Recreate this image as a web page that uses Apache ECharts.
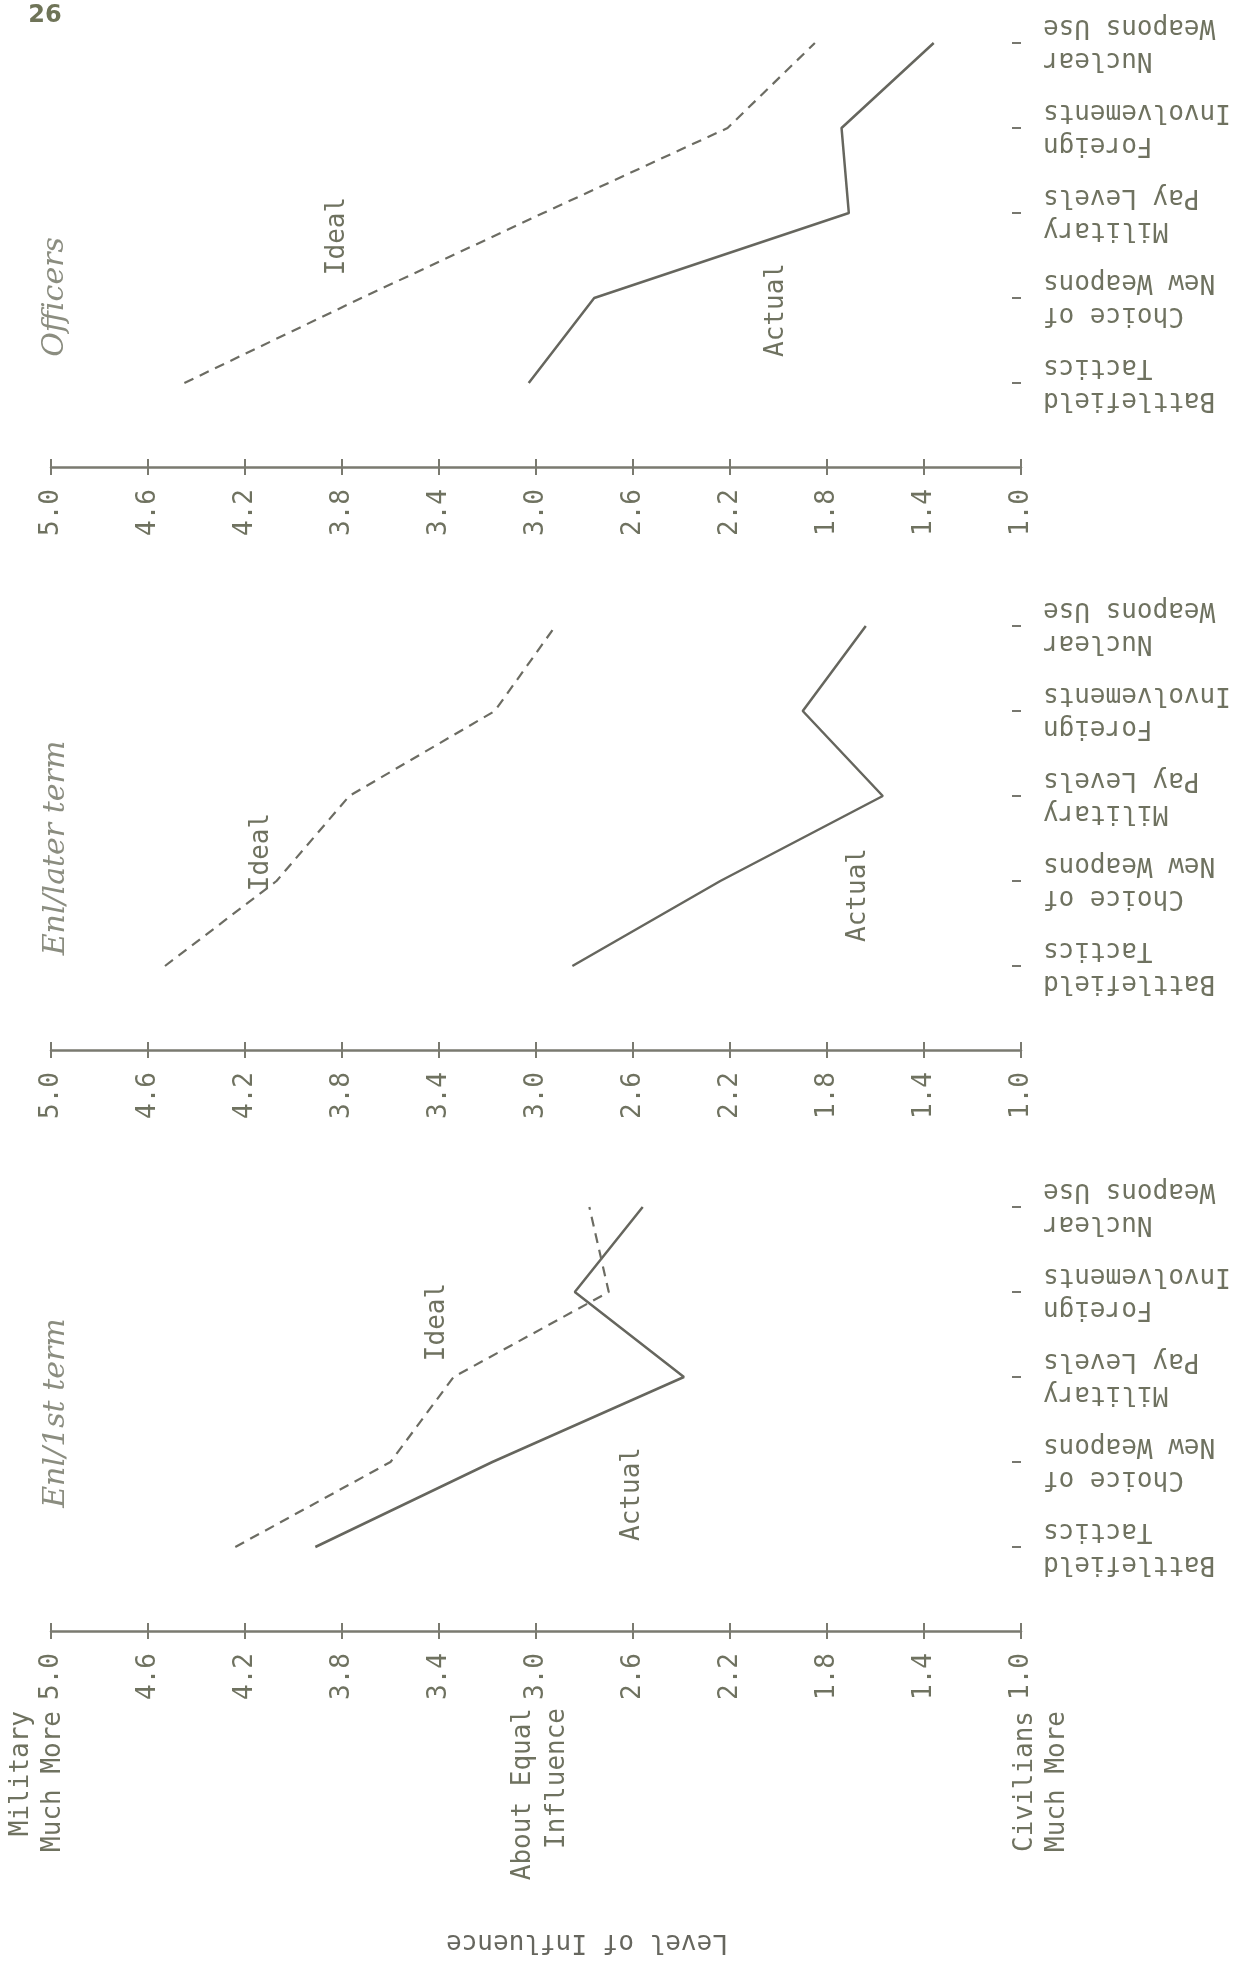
<!DOCTYPE html>
<html>
<head>
<meta charset="utf-8">
<script src="https://cdn.jsdelivr.net/npm/echarts@6/dist/echarts.min.js"></script>
<style>
html,body{margin:0;padding:0;background:#fff;}
#chart{width:1245px;height:1962px;}
</style>
</head>
<body>
<div id="chart"></div>
<script>
// ---- data ----
var categories = ['Battlefield\nTactics', 'Choice of\nNew Weapons', 'Military\nPay Levels', 'Foreign\nInvolvements', 'Nuclear\nWeapons Use'];
var tickValues = [5.0, 4.6, 4.2, 3.8, 3.4, 3.0, 2.6, 2.2, 1.8, 1.4, 1.0];
var tickLabels = ['5.0', '4.6', '4.2', '3.8', '3.4', '3.0', '2.6', '2.2', '1.8', '1.4', '1.0'];
var panelTitles = ['Officers', 'Enl/later term', 'Enl/1st term'];
// Officers
var officersActual = [3.03, 2.76, 1.71, 1.74, 1.36];
var officersIdeal  = [4.45, 3.72, 2.97, 2.21, 1.85];
// Enlisted, later term
var enlLaterActual = [2.85, 2.24, 1.57, 1.90, 1.64];
var enlLaterIdeal  = [4.53, 4.07, 3.77, 3.17, 2.92];
// Enlisted, 1st term
var enl1stActual = [3.91, 3.18, 2.39, 2.84, 2.56];
var enl1stIdeal  = [4.24, 3.60, 3.34, 2.70, 2.78];

var panelActual = [officersActual, enlLaterActual, enl1stActual];
var panelIdeal = [officersIdeal, enlLaterIdeal, enl1stIdeal];

// ---- styles / layout ----
var MONO = 'DejaVu Sans Mono';
var TXT = '#6f7260';
var LINE = '#66665e';
var AXIS = '#7a7a70';
var axisY = [467, 1050, 1631];
var band = 85;
var gridLeft = 51, gridWidth = 970;

var chart = echarts.init(document.getElementById('chart'), null, {renderer: 'canvas'});

var grids = [], xAxes = [], yAxes = [], series = [];
for (var p = 0; p < 3; p++) {
  var Y0 = axisY[p];
  grids.push({
    left: gridLeft, width: gridWidth,
    top: Y0 - 41.5 - 5 * band, height: 5 * band,
    outerBoundsMode: 'none', containLabel: false
  });
  // main value axis: line, outside ticks, labels
  xAxes.push({
    type: 'value', gridIndex: p, position: 'bottom', offset: 41.5,
    min: 1, max: 5, inverse: true,
    splitLine: {show: false},
    axisLine: {show: true, lineStyle: {color: AXIS, width: 2.5}},
    axisTick: {show: true, inside: false, length: 8, lineStyle: {color: AXIS, width: 2}, customValues: tickValues},
    axisLabel: {
      show: true, rotate: 90, margin: 22, customValues: tickValues,
      fontFamily: MONO, fontSize: 26, color: TXT,
      formatter: function (v) {
        var i = tickValues.indexOf(Math.round(v * 10) / 10);
        return i >= 0 ? tickLabels[i] : '';
      }
    }
  });
  // companion axis: inside ticks so the ticks cross the line
  xAxes.push({
    type: 'value', gridIndex: p, position: 'bottom', offset: 41.5,
    min: 1, max: 5, inverse: true,
    splitLine: {show: false},
    axisLine: {show: false},
    axisTick: {show: true, inside: true, length: 8, lineStyle: {color: AXIS, width: 2}, customValues: tickValues},
    axisLabel: {show: false}
  });
  yAxes.push({
    type: 'category', gridIndex: p, position: 'right', data: categories,
    boundaryGap: true,
    axisLine: {show: false},
    axisTick: {show: true, inside: true, length: 9, alignWithLabel: true, lineStyle: {color: '#77776f', width: 2}},
    splitLine: {show: false},
    axisLabel: {
      show: true, rotate: 180, margin: 22, interval: 0,
      fontFamily: MONO, fontSize: 26, lineHeight: 33, color: TXT
    }
  });
  series.push({
    name: 'Actual', type: 'line', xAxisIndex: 2 * p, yAxisIndex: p,
    data: panelActual[p].map(function (v, i) { return [v, categories[i]]; }),
    showSymbol: false, symbol: 'none', silent: true,
    lineStyle: {color: LINE, width: 2.5, type: 'solid'}
  });
  series.push({
    name: 'Ideal', type: 'line', xAxisIndex: 2 * p, yAxisIndex: p,
    data: panelIdeal[p].map(function (v, i) { return [v, categories[i]]; }),
    showSymbol: false, symbol: 'none', silent: true,
    lineStyle: {color: '#6c6c63', width: 2.2, type: [10, 7]}
  });
}

function rtext(x, y, text, opts) {
  opts = opts || {};
  return {
    type: 'text', x: x, y: y, rotation: opts.rotation === undefined ? Math.PI / 2 : opts.rotation,
    silent: true,
    style: {
      text: text,
      fontFamily: opts.fontFamily || MONO,
      fontSize: opts.fontSize || 26,
      fontStyle: opts.fontStyle || 'normal',
      fontWeight: opts.fontWeight || 'normal',
      lineHeight: opts.lineHeight || 34,
      fill: opts.fill || TXT,
      align: opts.align || 'center',
      verticalAlign: 'middle'
    }
  };
}

var titleOpts = {fontFamily: 'DejaVu Serif', fontStyle: 'italic', fontSize: 30, fill: '#8b8d80'};
var graphics = [
  rtext(45, 16, '26', {rotation: 0, fontFamily: 'DejaVu Sans', fontWeight: 'bold', fontSize: 24, fill: '#6f7458'}),
  // panel titles
  rtext(55, 297, panelTitles[0], titleOpts),
  rtext(56, 848, panelTitles[1], titleOpts),
  rtext(56, 1413, panelTitles[2], titleOpts),
  // line annotations
  rtext(337, 236, 'Ideal'), rtext(776, 310, 'Actual'),
  rtext(261, 852, 'Ideal'), rtext(858, 895, 'Actual'),
  rtext(437, 1322, 'Ideal'), rtext(632, 1494, 'Actual'),
  // scale anchors
  rtext(37, 1711, 'Military\nMuch More', {align: 'right', lineHeight: 32}),
  rtext(540, 1708, 'About Equal\nInfluence', {align: 'right', lineHeight: 34}),
  rtext(1041, 1711, 'Civilians\nMuch More', {align: 'right', lineHeight: 32}),
  // axis title
  rtext(587, 1942, 'Level of Influence', {rotation: Math.PI, fill: '#66665e'})
];

chart.setOption({
  backgroundColor: '#ffffff',
  animation: false,
  grid: grids,
  xAxis: xAxes,
  yAxis: yAxes,
  series: series,
  graphic: graphics
});
</script>
</body>
</html>
